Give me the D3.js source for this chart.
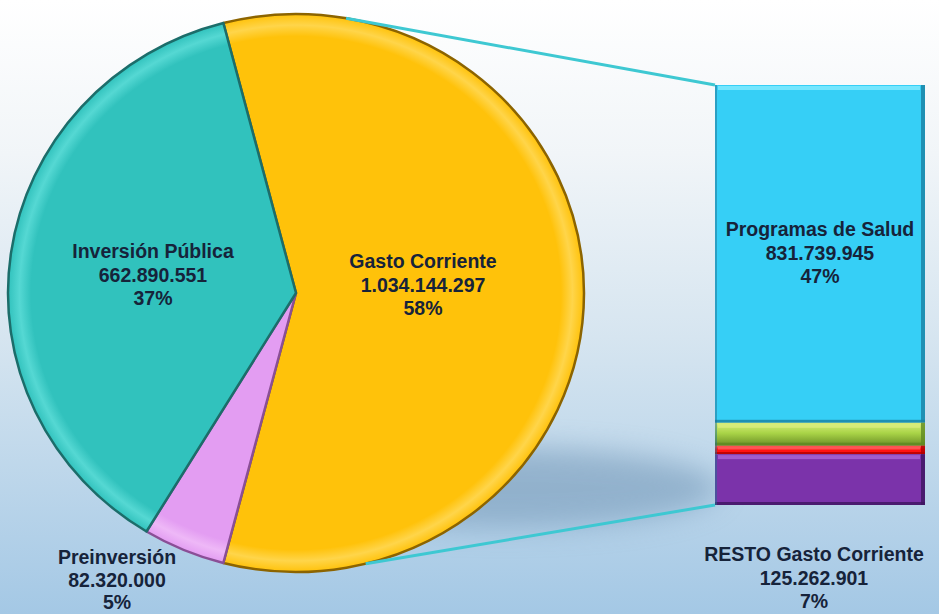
<!DOCTYPE html>
<html>
<head>
<meta charset="utf-8">
<script src="https://cdn.jsdelivr.net/npm/d3@7"></script>
<style>
  html, body { margin: 0; padding: 0; overflow: hidden; }
  svg { display: block; }
  text { font-family: "Liberation Sans", Arial, sans-serif; font-weight: bold; }
</style>
</head>
<body>
<svg id="chart" width="939" height="614"></svg>
<script>
// ---------- DATA ----------
const categories = ["Gasto Corriente", "Preinversión", "Inversión Pública"];
const values = [1034144297, 82320000, 662890551];
const pctLabels = ["58%", "5%", "37%"];

const barCategories = ["Programas de Salud", "Otro A", "Otro B", "RESTO Gasto Corriente"];
const barValues = [831739945, 56500000, 20641451, 125262901];
const barPctLabels = ["47%", "", "", "7%"];

// ---------- STYLE / LAYOUT ----------
const pieColors = ["#ffc20a", "#e39df2", "#31c2bd"];
const pieEdge = ["#8c6400", "#8a4f96", "#1c6d6a"];
const pieRim = ["#ffd54a", "#eeb8f7", "#55d8d3"];
const barColors = ["#36cff6", "#a9d447", "#ff1111", "#7b33aa"];
const barLight = ["#7feaff", "#d8ec7a", "#ff5a5a", "#a765d4"];
const barDark = ["#1a7fa2", "#5f8a22", "#b00000", "#3e1560"];

const W = 939, H = 614;
const cx = 296, cy = 293, rx = 288, ry = 279, R = 100;
const startAngle = -0.255;
const barX0 = 715, barX1 = 925, barTop = 85, barBottom = 505;

const svg = d3.select("#chart");
const defs = svg.append("defs");

// background
const bg = defs.append("linearGradient").attr("id", "bg").attr("x1", 0).attr("y1", 0).attr("x2", 0).attr("y2", 1);
bg.append("stop").attr("offset", "0%").attr("stop-color", "#ffffff");
bg.append("stop").attr("offset", "25%").attr("stop-color", "#f1f5f8");
bg.append("stop").attr("offset", "55%").attr("stop-color", "#d6e5f0");
bg.append("stop").attr("offset", "100%").attr("stop-color", "#a4c8e5");
svg.append("rect").attr("width", W).attr("height", H).attr("fill", "url(#bg)");

// shadow
const blur = defs.append("filter").attr("id", "blur").attr("x", "-50%").attr("y", "-50%").attr("width", "200%").attr("height", "200%");
blur.append("feGaussianBlur").attr("stdDeviation", 14);
svg.append("ellipse").attr("cx", 505).attr("cy", 488).attr("rx", 215).attr("ry", 40)
  .attr("fill", "#6a8fb0").attr("opacity", 0.5).attr("filter", "url(#blur)");

// ---------- PIE ----------
const pie = d3.pie().sort(null).startAngle(startAngle).endAngle(startAngle + 2 * Math.PI);
const arcs = pie(values);
const arc = d3.arc().innerRadius(0).outerRadius(R);

pieColors.forEach((c, i) => {
  const g = defs.append("radialGradient").attr("id", "pg" + i)
    .attr("gradientUnits", "userSpaceOnUse").attr("cx", 0).attr("cy", 0).attr("r", R);
  g.append("stop").attr("offset", "0%").attr("stop-color", c);
  g.append("stop").attr("offset", "92%").attr("stop-color", c);
  g.append("stop").attr("offset", "96%").attr("stop-color", pieRim[i]);
  g.append("stop").attr("offset", "100%").attr("stop-color", c);
});

const pg = svg.append("g").attr("transform", `translate(${cx},${cy}) scale(${rx / R},${ry / R})`);
pg.selectAll("path.slice").data(arcs).join("path")
  .attr("class", "slice")
  .attr("d", arc)
  .attr("fill", (d, i) => `url(#pg${i})`)
  .attr("stroke", (d, i) => pieEdge[i])
  .attr("stroke-width", 2.5)
  .attr("stroke-linejoin", "round")
  .attr("vector-effect", "non-scaling-stroke");

// ---------- BAR ----------
const total = d3.sum(barValues);
const y = d3.scaleLinear().domain([0, total]).range([barTop, barBottom]);
const cum = d3.cumsum(barValues);
const segs = barValues.map((v, i) => ({ v, i, y0: y(cum[i] - v), y1: y(cum[i]) }));

const bg2 = svg.append("g");
segs.forEach(s => {
  const h = s.y1 - s.y0;
  const gr = defs.append("linearGradient").attr("id", "bgr" + s.i).attr("x1", 0).attr("y1", 0).attr("x2", 0).attr("y2", 1);
  if (h < 40) {
    gr.append("stop").attr("offset", "0%").attr("stop-color", barLight[s.i]);
    gr.append("stop").attr("offset", "45%").attr("stop-color", barColors[s.i]);
    gr.append("stop").attr("offset", "100%").attr("stop-color", s.i === 1 ? "#6b8f26" : barColors[s.i]);
  } else {
    gr.append("stop").attr("offset", "0%").attr("stop-color", barColors[s.i]);
    gr.append("stop").attr("offset", "100%").attr("stop-color", barColors[s.i]);
  }
  bg2.append("rect").attr("x", barX0).attr("y", s.y0).attr("width", barX1 - barX0).attr("height", h)
    .attr("fill", `url(#bgr${s.i})`);
  bg2.append("rect").attr("x", barX0 + 3).attr("y", s.y0 + 1).attr("width", barX1 - barX0 - 8).attr("height", Math.min(4, h / 3))
    .attr("fill", barLight[s.i]).attr("opacity", 0.85);
  bg2.append("rect").attr("x", barX1 - 4).attr("y", s.y0).attr("width", 4).attr("height", h)
    .attr("fill", barDark[s.i]).attr("opacity", 0.8);
  bg2.append("rect").attr("x", barX0).attr("y", s.y1 - Math.min(3, h / 4)).attr("width", barX1 - barX0).attr("height", Math.min(3, h / 4))
    .attr("fill", barDark[s.i]).attr("opacity", 0.8);
});
bg2.append("rect").attr("x", barX0).attr("y", barTop).attr("width", 2).attr("height", barBottom - barTop)
  .attr("fill", "#1f6f90").attr("opacity", 0.5);

// ---------- CONNECTORS ----------
const pt = a => [cx + rx * Math.sin(a), cy - ry * Math.cos(a)];
const topPt = pt(10 * Math.PI / 180), botPt = pt(166 * Math.PI / 180);
svg.append("line").attr("x1", topPt[0]).attr("y1", topPt[1]).attr("x2", barX0).attr("y2", barTop)
  .attr("stroke", "#3ec8d2").attr("stroke-width", 3);
svg.append("line").attr("x1", botPt[0]).attr("y1", botPt[1]).attr("x2", barX0).attr("y2", barBottom)
  .attr("stroke", "#3ec8d2").attr("stroke-width", 3);

// ---------- LABELS ----------
const fmt = v => d3.format(",")(v).replace(/,/g, ".");
const textColor = "#16233a";
function label(x, yBase, lines, step) {
  const t = svg.append("text").attr("x", x).attr("y", yBase).attr("text-anchor", "middle")
    .attr("font-size", 19.5).attr("fill", textColor);
  lines.forEach((l, k) => t.append("tspan").attr("x", x).attr("dy", k === 0 ? 0 : step).text(l));
}
const labelAnchors = [[423, 268, 23.5], [117, 564, 22.5], [153, 258, 23.5]];
arcs.forEach((a, i) => {
  label(labelAnchors[i][0], labelAnchors[i][1], [categories[i], fmt(values[i]), pctLabels[i]], labelAnchors[i][2]);
});
const barLabelAnchors = { 0: [820, 236, 23.5], 3: [814, 561, 23.5] };
[0, 3].forEach(i => {
  label(barLabelAnchors[i][0], barLabelAnchors[i][1], [barCategories[i], fmt(barValues[i]), barPctLabels[i]], barLabelAnchors[i][2]);
});
</script>
</body>
</html>
